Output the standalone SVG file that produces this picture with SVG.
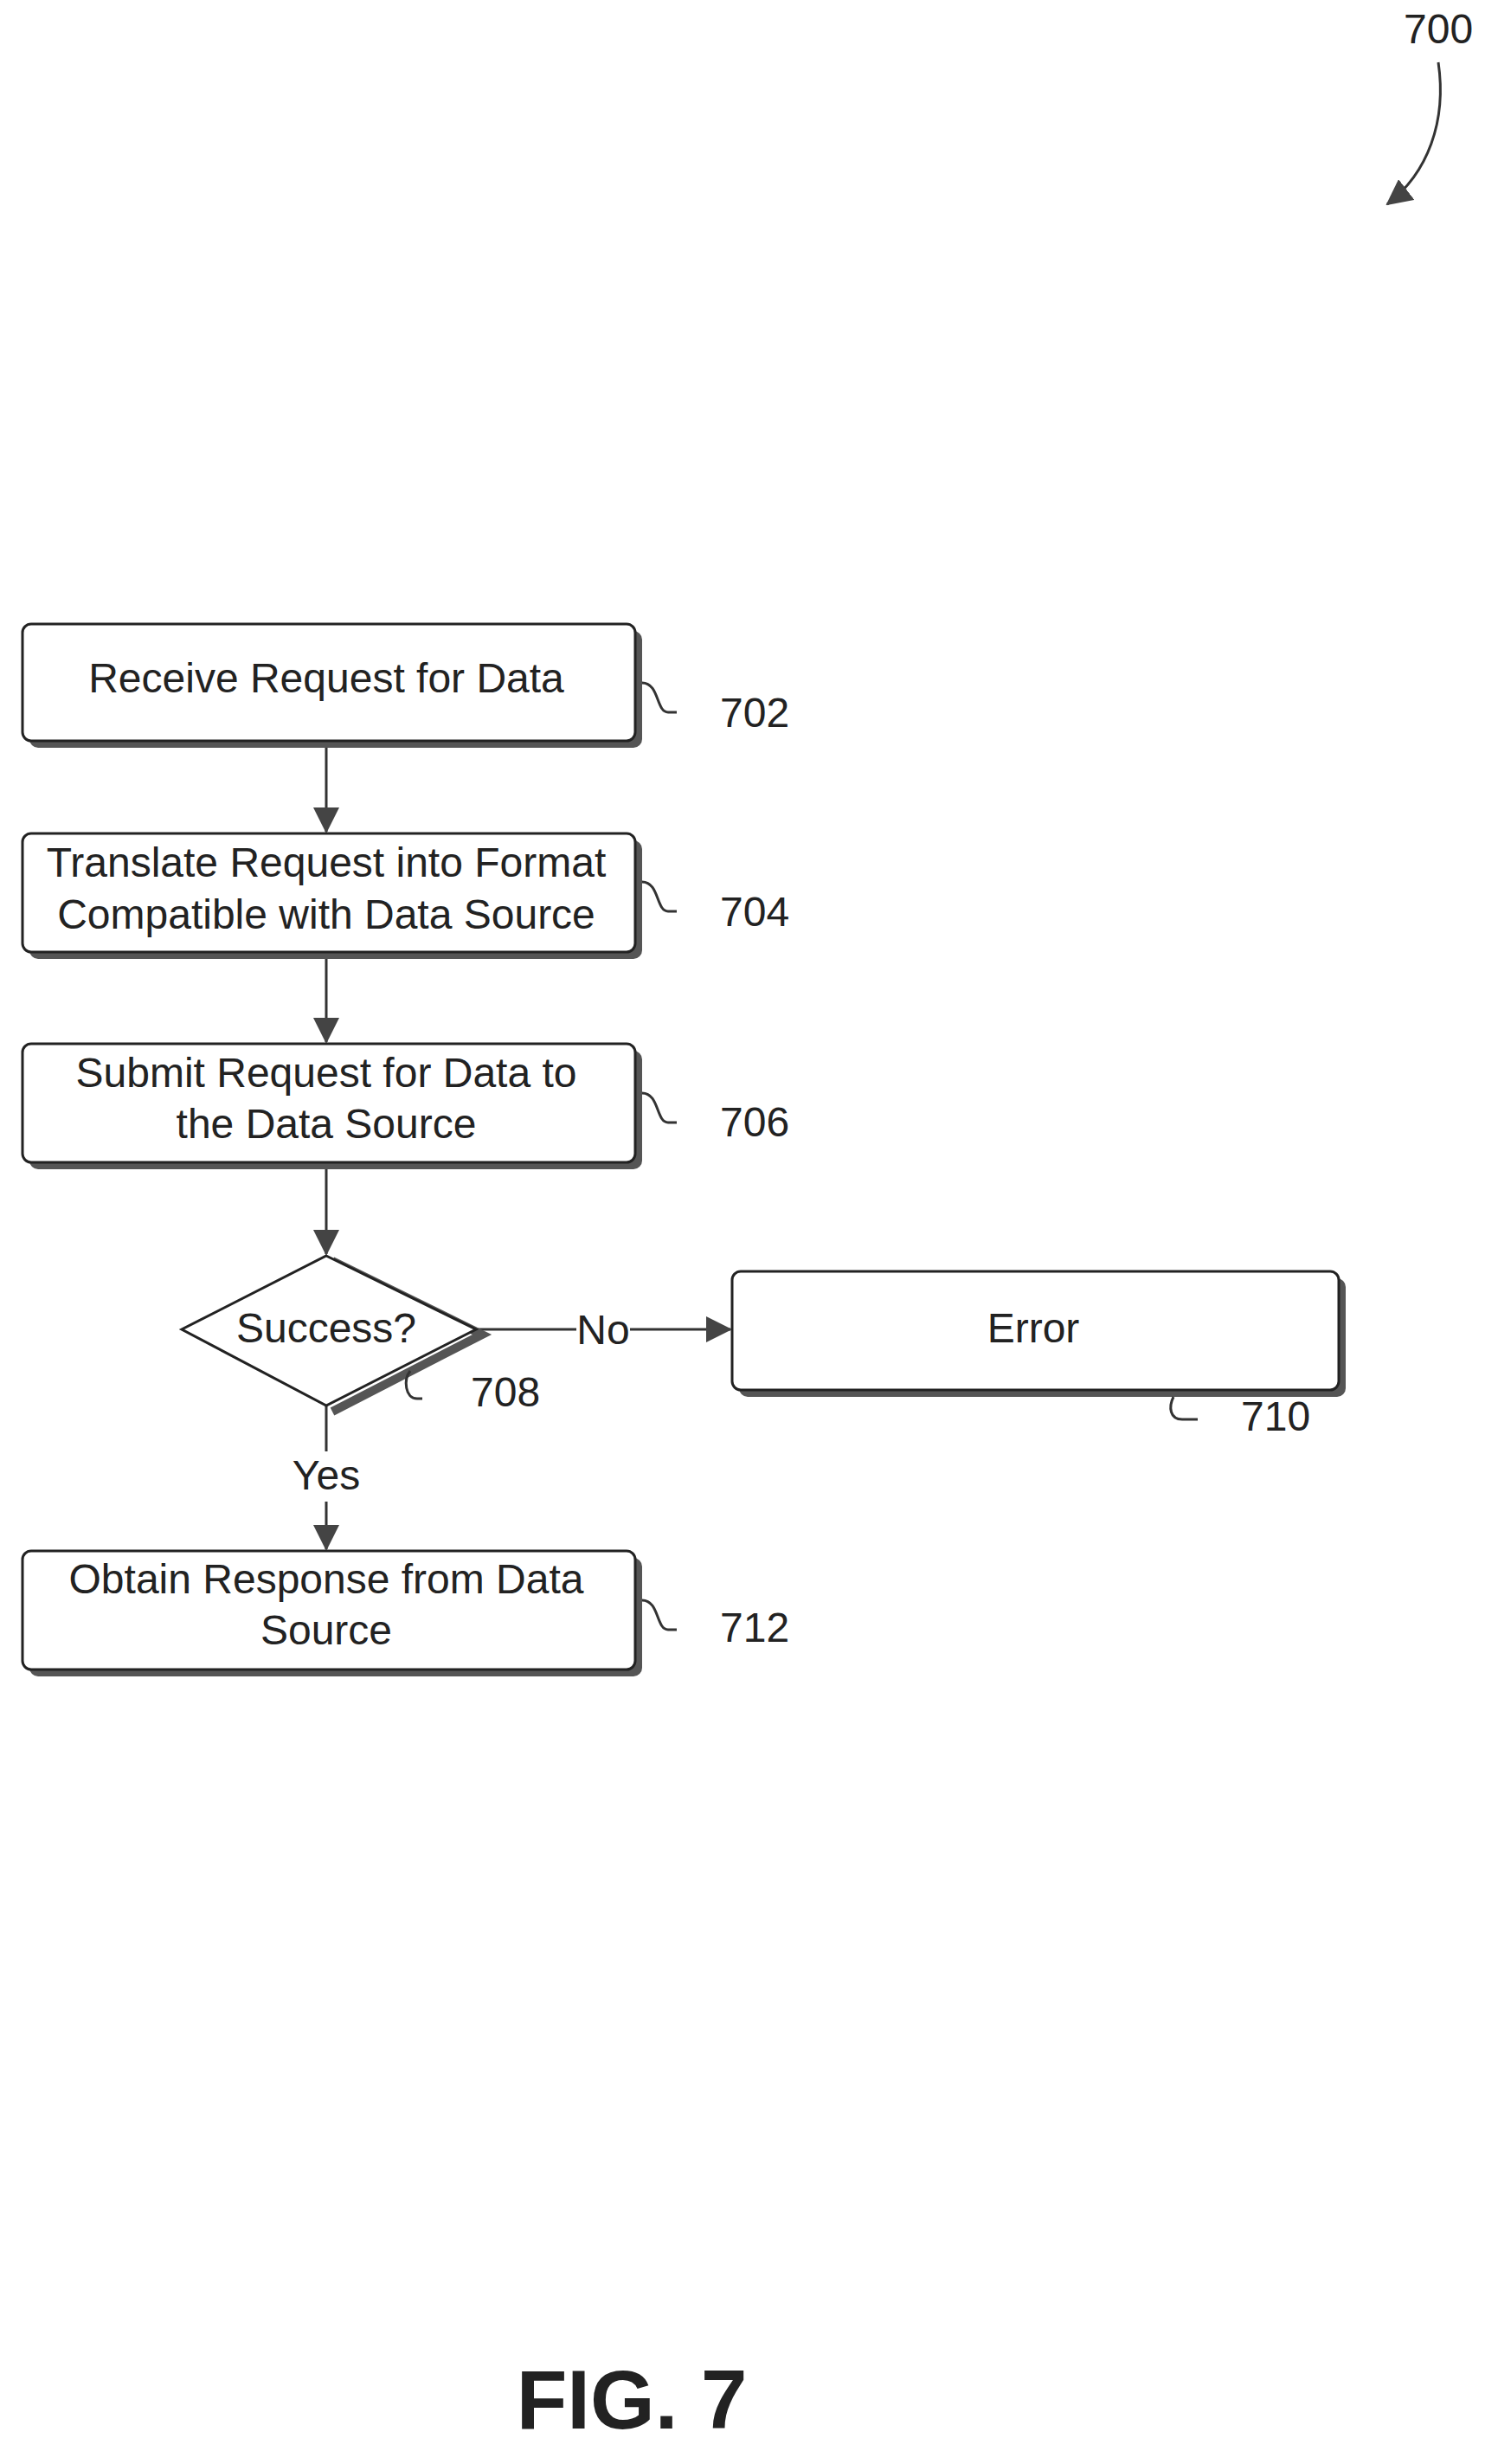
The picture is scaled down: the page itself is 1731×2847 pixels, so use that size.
<svg xmlns="http://www.w3.org/2000/svg" width="1731" height="2847" viewBox="0 0 1731 2847">
<style>
.box{fill:#fff;stroke:#222;stroke-width:3}
.sh{fill:#555}
.t{font-family:"Liberation Sans",Arial,sans-serif;font-size:48px;fill:#222;text-anchor:middle}
.r{font-family:"Liberation Sans",Arial,sans-serif;font-size:48px;fill:#222}
.ln{stroke:#333;stroke-width:3;fill:none}
.ld{stroke:#333;stroke-width:3;fill:none}
</style>
<defs><marker id="b" markerWidth="30" markerHeight="30" refX="28" refY="15" orient="auto" markerUnits="userSpaceOnUse" viewBox="0 0 30 30"><path d="M0,0L30,15L0,30z" fill="#444"/></marker></defs>
<g id="n700"><text class="r" x="1622" y="50">700</text><path class="ld" d="M1662,72 C1672,140 1650,200 1603,236" marker-end="url(#b)"/></g>
<g transform="translate(4,7)">
<g id="connectors">
<path class="ln" d="M373,849 V954" marker-end="url(#b)"/>
<path class="ln" d="M373,1093 V1197" marker-end="url(#b)"/>
<path class="ln" d="M373,1336 V1442" marker-end="url(#b)"/>
<path class="ln" d="M546,1529 H662 M724,1529 H840" marker-end="url(#b)"/>
<text class="t" x="693" y="1546">No</text>
<path class="ln" d="M373,1617 V1670 M373,1728 V1783" marker-end="url(#b)"/>
<text class="t" x="373" y="1714">Yes</text>
</g>
<g id="n702"><rect class="sh" x="30" y="722" width="708" height="135" rx="10"/><rect class="box" x="22" y="714" width="708" height="135" rx="10"/><text class="t" x="373" y="793">Receive Request for Data</text>
<path class="ld" d="M738,782 c20,0 16,34 30,34 h10"/><text class="r" x="828" y="833">702</text></g>
<g id="n704"><rect class="sh" x="30" y="964" width="708" height="137" rx="10"/><rect class="box" x="22" y="956" width="708" height="137" rx="10"/><text class="t" x="373" y="1006">Translate Request into Format</text><text class="t" x="373" y="1066">Compatible with Data Source</text>
<path class="ld" d="M738,1012 c20,0 16,34 30,34 h10"/><text class="r" x="828" y="1063">704</text></g>
<g id="n706"><rect class="sh" x="30" y="1207" width="708" height="137" rx="10"/><rect class="box" x="22" y="1199" width="708" height="137" rx="10"/><text class="t" x="373" y="1249">Submit Request for Data to</text><text class="t" x="373" y="1308">the Data Source</text>
<path class="ld" d="M738,1256 c20,0 16,34 30,34 h10"/><text class="r" x="828" y="1306">706</text></g>
<g id="n708"><path d="M380,1450 L553,1535 L380,1624" fill="none" stroke="#555" stroke-width="10"/><path class="box" d="M373,1444 L546,1529 L373,1617 L206,1529 Z"/><text class="t" x="373" y="1544">Success?</text>
<path class="ld" d="M470,1577 c-8,10 -6,32 8,32 h6"/><text class="r" x="540" y="1618">708</text></g>
<g id="n710"><rect class="sh" x="850" y="1470" width="701" height="137" rx="10"/><rect class="box" x="842" y="1462" width="701" height="137" rx="10"/><text class="t" x="1190" y="1544">Error</text>
<path class="ld" d="M1352,1607 c-6,12 -4,26 10,26 h18"/><text class="r" x="1430" y="1646">710</text></g>
<g id="n712"><rect class="sh" x="30" y="1793" width="708" height="137" rx="10"/><rect class="box" x="22" y="1785" width="708" height="137" rx="10"/><text class="t" x="373" y="1834">Obtain Response from Data</text><text class="t" x="373" y="1893">Source</text>
<path class="ld" d="M738,1842 c20,0 16,34 30,34 h10"/><text class="r" x="828" y="1890">712</text></g>
</g>
<text x="730" y="2806" font-family="Liberation Sans,Arial,sans-serif" font-weight="bold" font-size="96" text-anchor="middle" fill="#222">FIG. 7</text>
</svg>
